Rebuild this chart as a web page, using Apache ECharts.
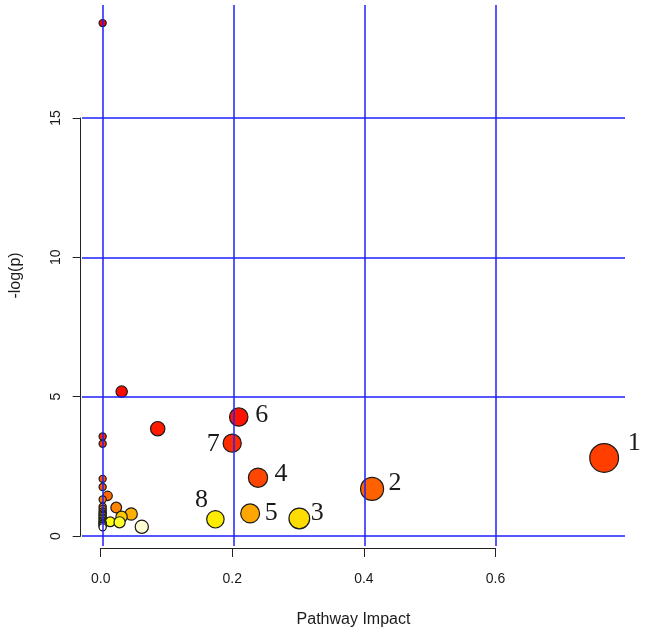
<!DOCTYPE html>
<html><head><meta charset="utf-8">
<script src="https://cdn.jsdelivr.net/npm/echarts@6/dist/echarts.min.js"></script>
<style>html,body{margin:0;padding:0;background:#fff}#c{width:645px;height:634px}</style>
</head><body><div id="c"></div>
<script>
// ---- data ----
const impact  = [0.000, 0.029, 0.2076, 0.084, 0.000, 0.1976, 0.000, 0.765, 0.237, 0.000, 0.000, 0.411, 0.0076, 0.000, 0.000, 0.0207, 0.000, 0.000, 0.000, 0.225, 0.0435, 0.000, 0.000, 0.0289, 0.000, 0.300, 0.000, 0.172, 0.000, 0.000, 0.0116, 0.0258, 0.000, 0.000, 0.000, 0.000, 0.000, 0.0597, 0.000];
const negLogP = [18.40, 5.18, 4.27, 3.85, 3.57, 3.33, 3.31, 2.80, 2.09, 2.05, 1.76, 1.69, 1.44, 1.31, 1.05, 1.02, 0.97, 0.88, 0.82, 0.81, 0.79, 0.76, 0.72, 0.69, 0.66, 0.63, 0.62, 0.60, 0.56, 0.52, 0.51, 0.49, 0.47, 0.45, 0.42, 0.38, 0.36, 0.33, 0.31];
const pointLabels = ['', '', '6', '', '', '7', '', '1', '4', '', '', '2', '', '', '', '', '', '', '', '5', '', '', '', '', '', '3', '', '8', '', '', '', '', '', '', '', '', '', '', ''];
const xTicks = [0, 0.2, 0.4, 0.6];
const yTicks = [0, 5, 10, 15];

// ---- styling helpers ----
const labelOffsets = { '1': [30, -15], '2': [23, -6], '3': [18, -5], '4': [23, -4], '5': [21, 0], '6': [23, -2], '7': [-19, 1], '8': [-14, -19] };

function hsvHex(h, s, v) {
  const i = Math.floor(h * 6), f = h * 6 - i;
  const p = v * (1 - s), q = v * (1 - f * s), t = v * (1 - (1 - f) * s);
  let r, g, b;
  switch (i % 6) { case 0: r=v; g=t; b=p; break; case 1: r=q; g=v; b=p; break; case 2: r=p; g=v; b=t; break;
    case 3: r=p; g=q; b=v; break; case 4: r=t; g=p; b=v; break; default: r=v; g=p; b=q; }
  const h2 = x => ('0' + Math.round(x * 255).toString(16)).slice(-2);
  return '#' + h2(r) + h2(g) + h2(b);
}
// R heat.colors(n)
function heatColors(n) {
  const j = Math.floor(n / 4), i = n - j, out = [];
  for (let k = 0; k < i; k++) out.push(hsvHex(i > 1 ? k / (i - 1) / 6 : 0, 1, 1));
  const s0 = 1 - 1 / (2 * j), s1 = 1 / (2 * j);
  for (let k = 0; k < j; k++) out.push(hsvHex(1 / 6, j > 1 ? s0 + k * (s1 - s0) / (j - 1) : s0, 1));
  return out;
}
const heat = heatColors(negLogP.length);
const order = negLogP.map((v, i) => i).sort((a, b) => negLogP[b] - negLogP[a]);
const colors = [];
order.forEach((idx, r) => { colors[idx] = heat[r]; });

// geometry of main grid
const G = { left: 80, right: 20, top: 5, bottom: 88 };
const W = 645, H = 634;
const xMin = -0.0315, xMax = 0.7968, yMin = -0.359, yMax = 19.05;
const pxPerX = (W - G.left - G.right) / (xMax - xMin);
// circle radius as in MetaboAnalyst (sqrt of impact, in x units)
const sq = impact.map(Math.sqrt);
const mn = Math.min(...sq), mx = Math.max(...sq);
const maxR = (mx - mn) / 40, minR = (mx - mn) / 160;
const diam = sq.map(s => 2 * (minR + (maxR - minR) * (s - mn) / (mx - mn)) * pxPerX);

const textCol = '#1a1a1a';
const sans = 'Liberation Sans';

const data = impact.map((x, i) => {
  const d = { value: [x, negLogP[i]], symbolSize: diam[i], itemStyle: { color: colors[i] } };
  const lab = pointLabels[i];
  if (lab) d.label = { show: true, formatter: lab, position: 'inside', offset: labelOffsets[lab], align: 'center', verticalAlign: 'middle' };
  return d;
});

const chart = echarts.init(document.getElementById('c'), null, { renderer: 'canvas' });
chart.setOption({
  animation: false,
  backgroundColor: '#ffffff',
  grid: [
    { left: G.left, right: G.right, top: G.top, bottom: G.bottom },
    { left: 100.7, right: W - 495.5, top: G.top, bottom: H - 548 },
    { left: 80.7, width: 10, top: 118, bottom: H - 536 }
  ],
  xAxis: [
    { gridIndex: 0, type: 'value', min: xMin, max: xMax, axisLine: { show: false }, axisTick: { show: false },
      axisLabel: { show: false }, splitLine: { show: false },
      name: 'Pathway Impact', nameLocation: 'middle', nameGap: 66,
      nameTextStyle: { fontFamily: sans, fontSize: 16, color: textCol } },
    { gridIndex: 1, type: 'value', min: xTicks[0], max: xTicks[xTicks.length - 1], interval: xTicks[1] - xTicks[0],
      axisLine: { lineStyle: { color: '#222', width: 1 } }, axisTick: { length: 9, lineStyle: { color: '#222' } },
      axisLabel: { margin: 24, fontFamily: sans, fontSize: 14, color: textCol, formatter: v => v.toFixed(1) },
      splitLine: { show: false } },
    { gridIndex: 2, type: 'value', show: false }
  ],
  yAxis: [
    { gridIndex: 0, type: 'value', min: yMin, max: yMax, axisLine: { show: false }, axisTick: { show: false },
      axisLabel: { show: false }, splitLine: { show: false },
      name: '-log(p)', nameLocation: 'middle', nameRotate: 90, nameGap: 58,
      nameTextStyle: { fontFamily: sans, fontSize: 16, color: textCol } },
    { gridIndex: 1, type: 'value', show: false },
    { gridIndex: 2, type: 'value', min: yTicks[0], max: yTicks[yTicks.length - 1], interval: yTicks[1] - yTicks[0],
      axisLine: { lineStyle: { color: '#222', width: 1 } }, axisTick: { length: 8, lineStyle: { color: '#222' } },
      axisLabel: { rotate: 90, margin: 18, fontFamily: sans, fontSize: 14, color: textCol },
      splitLine: { show: false } }
  ],
  series: [
    { type: 'line', xAxisIndex: 0, yAxisIndex: 0, data: [], z: 1, silent: true,
      markLine: { silent: true, symbol: ['none', 'none'], label: { show: false },
        lineStyle: { color: '#1f1fff', width: 1.5, type: 'solid' },
        data: xTicks.map(v => ({ xAxis: v })).concat(yTicks.map(v => ({ yAxis: v }))) } },
    { type: 'scatter', xAxisIndex: 0, yAxisIndex: 0, z: 3, symbol: 'circle', data: data, clip: false,
      itemStyle: { borderColor: '#1a1a1a', borderWidth: 1.2, opacity: 1 },
      label: { fontFamily: 'Liberation Serif', fontSize: 26, color: textCol },
      emphasis: { disabled: true } }
  ]
});
</script></body></html>
